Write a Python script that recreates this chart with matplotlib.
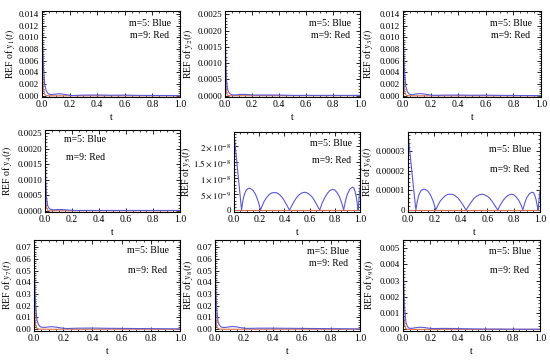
import matplotlib
matplotlib.use("Agg")
import matplotlib.pyplot as plt
from matplotlib.ticker import AutoMinorLocator, FixedLocator

plt.rcParams['font.family'] = ['Liberation Serif', 'DejaVu Serif']
plt.rcParams['mathtext.fontset'] = 'stix'

BLUE = '#5a5ad8'
RED = '#d8704e'

# shared time grid for the "decaying" panels
t_s = [0, 0.005, 0.01, 0.02, 0.03, 0.04, 0.05, 0.07, 0.09, 0.12, 0.15, 0.18,
       0.22, 0.3, 0.4, 0.5, 0.6, 0.7, 0.8, 0.9, 1.0]

y1_blue = [0.0145, 0.0085, 0.005, 0.0019, 0.0009, 0.0005, 0.0003, 0.0002, 0.00028, 0.00035, 0.0003,
           0.00018, 0.00006, 0.00012, 0.00014, 0.0001, 0.00012, 0.00008, 0.00006, 0.00006, 0.00004]
y1_red = [0.0145, 0.004, 0.0012, 0.0002, 0.00006, 0.00002, 0.00001, 0, 0, 0, 0,
          0, 0, 0, 0, 0, 0, 0, 0, 0, 0]

y2_blue = [0.0026, 0.0012, 0.0005, 0.00018, 0.00009, 0.00005, 0.00003, 0.00002, 0.00003, 0.00004, 0.00004,
           0.00003, 0.00002, 0.00002, 0.00002, 0.00001, 0.00001, 0.00001, 0.00001, 0.00001, 0.00001]
y2_red = [0.0026, 0.0006, 0.0001, 0.00001, 0, 0, 0, 0, 0, 0, 0,
          0, 0, 0, 0, 0, 0, 0, 0, 0, 0]

y3_blue = [0.0145, 0.008, 0.0045, 0.0017, 0.0008, 0.0004, 0.00025, 0.0002, 0.0003, 0.00038, 0.00032,
           0.0002, 0.00008, 0.00012, 0.00013, 0.0001, 0.00011, 0.00008, 0.00006, 0.00005, 0.00004]
y3_red = [0.0145, 0.0035, 0.001, 0.00018, 0.00005, 0.00002, 0.00001, 0, 0, 0, 0,
          0, 0, 0, 0, 0, 0, 0, 0, 0, 0]

y4_blue = [0.0026, 0.0011, 0.00045, 0.00016, 0.00008, 0.00005, 0.00004, 0.00003, 0.00004, 0.00004, 0.00003,
           0.00002, 0.00001, 0.00001, 0.00001, 0.00001, 0.00001, 0.00001, 0.00001, 0.00001, 0.00001]
y4_red = [0.0026, 0.0005, 0.0001, 0.00001, 0, 0, 0, 0, 0, 0, 0,
          0, 0, 0, 0, 0, 0, 0, 0, 0, 0]

y7_blue = [0.075, 0.04, 0.022, 0.008, 0.004, 0.0025, 0.0018, 0.0015, 0.0018, 0.0022, 0.0018,
           0.0012, 0.0006, 0.0009, 0.001, 0.0008, 0.0007, 0.0006, 0.0005, 0.0004, 0.0003]
y7_red = [0.075, 0.015, 0.004, 0.0008, 0.0002, 0.0001, 0, 0, 0, 0, 0,
          0, 0, 0, 0, 0, 0, 0, 0, 0, 0]

y8_blue = [0.075, 0.038, 0.02, 0.007, 0.0035, 0.0022, 0.0016, 0.0015, 0.0019, 0.0023, 0.002,
           0.0013, 0.0007, 0.0009, 0.0009, 0.0008, 0.0007, 0.0006, 0.0005, 0.0004, 0.0003]
y8_red = [0.075, 0.014, 0.0035, 0.0007, 0.0002, 0.0001, 0, 0, 0, 0, 0,
          0, 0, 0, 0, 0, 0, 0, 0, 0, 0]

y9_blue = [0.0055, 0.003, 0.0015, 0.0005, 0.0002, 0.0001, 0.00006, 0.00007, 0.0001, 0.00013, 0.00012,
           0.00008, 0.00005, 0.00006, 0.00005, 0.00003, 0.00002, 0.00002, 0.00001, 0.00001, 0.00001]
y9_red = [0.0055, 0.0012, 0.0003, 0.00005, 0.00001, 0, 0, 0, 0, 0, 0,
          0, 0, 0, 0, 0, 0, 0, 0, 0, 0]

# time grid for the oscillating panels (y5, y6)
t_osc = [0, 0.01, 0.02, 0.03, 0.04, 0.05, 0.06,
         0.07, 0.08, 0.09, 0.10, 0.115, 0.13, 0.15, 0.17, 0.19, 0.20, 0.21,
         0.22, 0.24, 0.26, 0.28, 0.30, 0.32, 0.34, 0.36, 0.38, 0.40, 0.42, 0.44,
         0.46, 0.48, 0.50, 0.52, 0.54, 0.56, 0.58, 0.60, 0.62, 0.64, 0.66, 0.68,
         0.69, 0.70, 0.72, 0.74, 0.76, 0.78, 0.80, 0.82, 0.84, 0.86, 0.87,
         0.88, 0.89, 0.90, 0.92, 0.94, 0.95, 0.96, 0.97, 0.98, 0.985,
         0.99, 1.0]

y5_blue = [24, 20, 16, 12, 8, 4, 0,
           2.8, 4.6, 5.7, 6.4, 6.8, 6.8, 6.2, 5.0, 3.0, 1.6, 0,
           1.0, 2.8, 4.0, 4.9, 5.4, 5.5, 5.4, 4.9, 4.1, 2.9, 1.5, 0,
           1.5, 2.9, 4.1, 4.9, 5.4, 5.6, 5.4, 4.9, 4.1, 2.9, 1.5, 0,
           1.1, 2.2, 3.9, 5.2, 6.1, 6.5, 6.3, 5.4, 3.9, 1.6, 0,
           2.0, 3.7, 5.0, 6.6, 7.2, 7.0, 6.0, 4.2, 1.5, 0,
           2.5, 7.0]  # x 1e-9

y6_blue = [3.9, 3.2, 2.55, 1.9, 1.25, 0.6, 0,
           0.43, 0.71, 0.88, 0.99, 1.05, 1.05, 0.96, 0.77, 0.46, 0.25, 0,
           0.15, 0.41, 0.58, 0.71, 0.79, 0.80, 0.79, 0.71, 0.60, 0.42, 0.22, 0,
           0.21, 0.41, 0.59, 0.70, 0.77, 0.80, 0.77, 0.70, 0.59, 0.41, 0.21, 0,
           0.14, 0.27, 0.48, 0.64, 0.75, 0.80, 0.78, 0.66, 0.48, 0.20, 0,
           0.25, 0.46, 0.63, 0.83, 0.90, 0.88, 0.75, 0.53, 0.19, 0,
           0.35, 1.0]  # x 1e-5

t_flat = [0, 1]
red_flat = [0, 0]

W, H = 550, 360
fig = plt.figure(figsize=(5.5, 3.6), dpi=100)


def make_ax(l, t, r, b):
    ax = fig.add_axes([l / W, 1 - b / H, (r - l) / W, (b - t) / H])
    ax._px = (l, r)
    return ax


def style(ax, idx, yticks, ylim, ylabels, label_right, txt=(0.78, 0.85, 0.72), ysize=6.5):
    ax.set_xlim(0, 1.0)
    ax.set_ylim(*ylim)
    ax.set_xticks([0, 0.2, 0.4, 0.6, 0.8, 1.0])
    ax.set_xticklabels(['0.0', '0.2', '0.4', '0.6', '0.8', '1.0'])
    ax.yaxis.set_major_locator(FixedLocator(yticks))
    ax.set_yticklabels(ylabels)
    ax.xaxis.set_minor_locator(AutoMinorLocator(4))
    ax.yaxis.set_minor_locator(AutoMinorLocator(5))
    ax.tick_params(which='both', direction='in', top=True, right=True, pad=2)
    ax.tick_params(axis='x', labelsize=7)
    ax.tick_params(axis='y', labelsize=ysize)
    ax.tick_params(which='major', length=3, width=0.6)
    ax.tick_params(which='minor', length=1.5, width=0.5)
    for s in ax.spines.values():
        s.set_linewidth(0.8)
    ax.set_xlabel('t', fontsize=7, labelpad=3)
    ax.set_ylabel('REF of $y_{%d}(t)$' % idx, fontsize=7)
    l, r = ax._px
    # label anchor is the right-hand side of the rotated text
    ax.yaxis.set_label_coords((label_right - l) / (r - l), 0.5)
    ax.text(txt[0], txt[1], 'm=5: Blue', transform=ax.transAxes, fontsize=7, ha='center', va='center')
    ax.text(txt[0], txt[2], 'm=9: Red', transform=ax.transAxes, fontsize=7, ha='center', va='center')


def draw(ax, t, blue, red_t, red):
    ax.plot(red_t, red, color=RED, lw=0.8)
    ax.plot(t, blue, color=BLUE, lw=0.8)


tk14 = [0, 0.002, 0.004, 0.006, 0.008, 0.010, 0.012, 0.014]
lb14 = ['0.000', '0.002', '0.004', '0.006', '0.008', '0.010', '0.012', '0.014']
tk25 = [0, 0.0005, 0.0010, 0.0015, 0.0020, 0.0025]
lb25 = ['0.0000', '0.0005', '0.0010', '0.0015', '0.0020', '0.0025']
tk07 = [0, 0.01, 0.02, 0.03, 0.04, 0.05, 0.06, 0.07]
lb07 = ['0.00', '0.01', '0.02', '0.03', '0.04', '0.05', '0.06', '0.07']
tk05 = [0, 0.001, 0.002, 0.003, 0.004, 0.005]
lb05 = ['0.000', '0.001', '0.002', '0.003', '0.004', '0.005']

ax1 = make_ax(42, 11, 180, 97)
draw(ax1, t_s, y1_blue, t_s, y1_red)
style(ax1, 1, tk14, (-0.0002, 0.0145), lb14, 17)

ax2 = make_ax(225, 11, 360, 97)
draw(ax2, t_s, y2_blue, t_s, y2_red)
style(ax2, 2, tk25, (-0.00004, 0.0026), lb25, 195)

ax3 = make_ax(403, 11, 541, 97)
draw(ax3, t_s, y3_blue, t_s, y3_red)
style(ax3, 3, tk14, (-0.0002, 0.0145), lb14, 375)

ax4 = make_ax(45, 130, 180, 212)
draw(ax4, t_s, y4_blue, t_s, y4_red)
style(ax4, 4, tk25, (-0.00004, 0.0026), lb25, 14, txt=(0.3, 0.88, 0.67))

ax5 = make_ax(234, 132, 360, 212)
draw(ax5, t_osc, [v * 1e-9 for v in y5_blue], t_flat, red_flat)
style(ax5, 5, [0, 5e-9, 1e-8, 1.5e-8, 2e-8], (-0.6e-9, 2.45e-8),
      ['0', r'$5\times10^{-9}$', r'$1\times10^{-8}$', r'$1.5\times10^{-8}$', r'$2\times10^{-8}$'],
      193, txt=(0.77, 0.85, 0.64), ysize=6.5)

ax6 = make_ax(408, 132, 540, 212)
draw(ax6, t_osc, [v * 1e-5 for v in y6_blue], t_flat, red_flat)
style(ax6, 6, [0, 1e-5, 2e-5, 3e-5], (-0.1e-5, 3.95e-5),
      ['0', '0.00001', '0.00002', '0.00003'], 374, txt=(0.77, 0.78, 0.53))

ax7 = make_ax(34, 240, 180, 331)
draw(ax7, t_s, y7_blue, t_s, y7_red)
style(ax7, 7, tk07, (-0.0015, 0.076), lb07, 14, txt=(0.78, 0.88, 0.67))

ax8 = make_ax(215, 240, 360, 331)
draw(ax8, t_s, y8_blue, t_s, y8_red)
style(ax8, 8, tk07, (-0.0015, 0.076), lb07, 195, txt=(0.78, 0.87, 0.74))

ax9 = make_ax(403, 240, 540, 331)
draw(ax9, t_s, y9_blue, t_s, y9_red)
style(ax9, 9, tk05, (-0.0001, 0.0055), lb05, 376, txt=(0.78, 0.87, 0.67))

fig.savefig('out.png', dpi=100)
